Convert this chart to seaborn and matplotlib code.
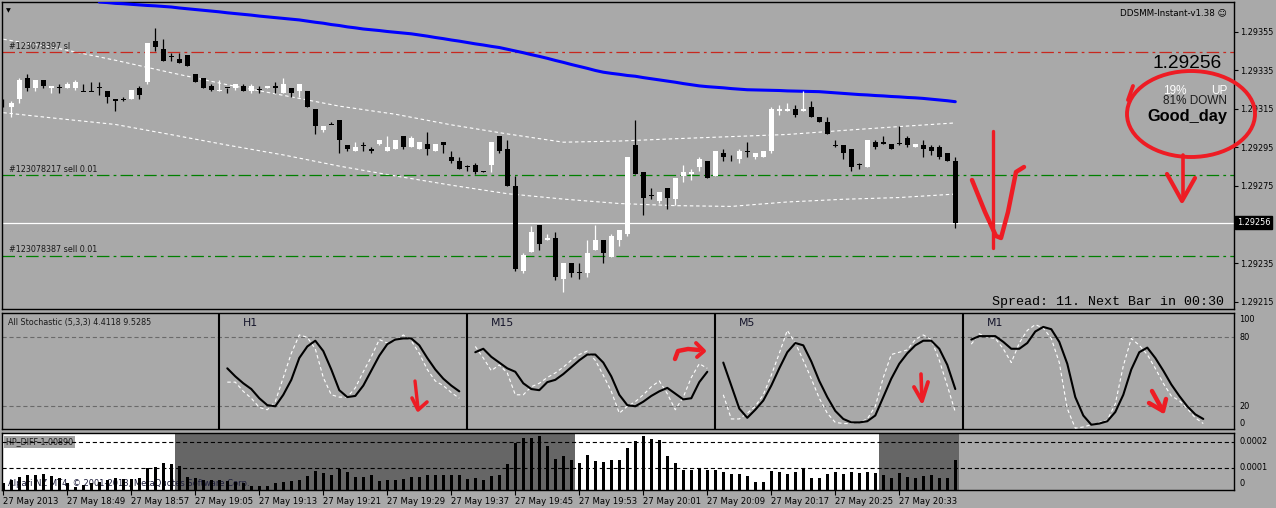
import numpy as np
import pandas as pd
import seaborn as sns
import matplotlib
matplotlib.use('Agg')
import matplotlib.pyplot as plt
from matplotlib.patches import Ellipse
from matplotlib.transforms import blended_transform_factory as blend

# ---------------- data (EURUSD M1, 27 May 2013 18:41 .. 20:40) ----------------
opens = [1.29318, 1.29316, 1.29320, 1.29331, 1.29326, 1.29330, 1.29326, 1.29326, 1.29326, 1.29326,
         1.29324, 1.29324, 1.29326, 1.29324, 1.29320, 1.29320, 1.29320, 1.29326, 1.29329, 1.29350,
         1.29346, 1.29342, 1.29341, 1.29343, 1.29333, 1.29331, 1.29327, 1.29324, 1.29326, 1.29326,
         1.29327, 1.29324, 1.29325, 1.29326, 1.29327, 1.29323, 1.29326, 1.29324, 1.29324, 1.29315,
         1.29304, 1.29307, 1.29309, 1.29296, 1.29293, 1.29296, 1.29294, 1.29297, 1.29293, 1.29294,
         1.29301, 1.29295, 1.29294, 1.29297, 1.29293, 1.29298, 1.29290, 1.29288, 1.29285, 1.29286,
         1.29283, 1.29286, 1.29301, 1.29294, 1.29275, 1.29231, 1.29241, 1.29255, 1.29247, 1.29248,
         1.29227, 1.29235, 1.29230, 1.29230, 1.29242, 1.29247, 1.29238, 1.29247, 1.29250, 1.29296,
         1.29282, 1.29270, 1.29267, 1.29274, 1.29268, 1.29280, 1.29281, 1.29285, 1.29288, 1.29280,
         1.29292, 1.29289, 1.29289, 1.29293, 1.29290, 1.29290, 1.29293, 1.29314, 1.29314, 1.29315,
         1.29314, 1.29316, 1.29311, 1.29308, 1.29296, 1.29296, 1.29294, 1.29286, 1.29285, 1.29298,
         1.29298, 1.29297, 1.29297, 1.29300, 1.29295, 1.29296, 1.29295, 1.29295, 1.29292, 1.29288]
highs = [1.29320, 1.29319, 1.29331, 1.29333, 1.29330, 1.29330, 1.29327, 1.29328, 1.29329, 1.29330,
         1.29328, 1.29329, 1.29329, 1.29324, 1.29320, 1.29321, 1.29325, 1.29327, 1.29349, 1.29357,
         1.29351, 1.29344, 1.29344, 1.29343, 1.29333, 1.29331, 1.29328, 1.29330, 1.29326, 1.29328,
         1.29328, 1.29328, 1.29327, 1.29327, 1.29329, 1.29331, 1.29326, 1.29328, 1.29324, 1.29315,
         1.29306, 1.29308, 1.29309, 1.29296, 1.29298, 1.29298, 1.29295, 1.29299, 1.29301, 1.29299,
         1.29301, 1.29301, 1.29298, 1.29303, 1.29297, 1.29298, 1.29293, 1.29290, 1.29286, 1.29287,
         1.29283, 1.29298, 1.29301, 1.29299, 1.29280, 1.29240, 1.29254, 1.29255, 1.29250, 1.29251,
         1.29235, 1.29235, 1.29235, 1.29247, 1.29255, 1.29247, 1.29250, 1.29252, 1.29290, 1.29309,
         1.29282, 1.29274, 1.29272, 1.29274, 1.29279, 1.29286, 1.29284, 1.29290, 1.29288, 1.29293,
         1.29294, 1.29291, 1.29294, 1.29298, 1.29292, 1.29293, 1.29316, 1.29317, 1.29318, 1.29317,
         1.29324, 1.29319, 1.29311, 1.29311, 1.29299, 1.29296, 1.29294, 1.29287, 1.29299, 1.29299,
         1.29301, 1.29297, 1.29306, 1.29301, 1.29297, 1.29299, 1.29296, 1.29296, 1.29292, 1.29290]
lows = [1.29316, 1.29311, 1.29318, 1.29324, 1.29324, 1.29326, 1.29323, 1.29323, 1.29326, 1.29325,
        1.29324, 1.29324, 1.29322, 1.29318, 1.29314, 1.29319, 1.29320, 1.29320, 1.29328, 1.29345,
        1.29340, 1.29340, 1.29339, 1.29337, 1.29329, 1.29326, 1.29324, 1.29324, 1.29323, 1.29325,
        1.29324, 1.29323, 1.29323, 1.29326, 1.29323, 1.29323, 1.29321, 1.29321, 1.29316, 1.29302,
        1.29303, 1.29307, 1.29292, 1.29293, 1.29293, 1.29293, 1.29292, 1.29296, 1.29293, 1.29294,
        1.29294, 1.29295, 1.29294, 1.29291, 1.29293, 1.29292, 1.29287, 1.29284, 1.29283, 1.29281,
        1.29282, 1.29282, 1.29292, 1.29275, 1.29231, 1.29230, 1.29241, 1.29242, 1.29247, 1.29226,
        1.29220, 1.29228, 1.29227, 1.29228, 1.29242, 1.29235, 1.29238, 1.29244, 1.29249, 1.29281,
        1.29260, 1.29268, 1.29266, 1.29263, 1.29265, 1.29277, 1.29278, 1.29283, 1.29279, 1.29280,
        1.29288, 1.29288, 1.29287, 1.29290, 1.29289, 1.29290, 1.29292, 1.29312, 1.29314, 1.29311,
        1.29314, 1.29311, 1.29308, 1.29302, 1.29295, 1.29289, 1.29283, 1.29284, 1.29285, 1.29294,
        1.29297, 1.29294, 1.29296, 1.29295, 1.29295, 1.29290, 1.29291, 1.29289, 1.29288, 1.29253]
closes = [1.29318, 1.29318, 1.29330, 1.29326, 1.29330, 1.29327, 1.29327, 1.29326, 1.29328, 1.29329,
          1.29324, 1.29324, 1.29326, 1.29321, 1.29319, 1.29320, 1.29325, 1.29322, 1.29349, 1.29347,
          1.29340, 1.29342, 1.29339, 1.29337, 1.29329, 1.29326, 1.29325, 1.29325, 1.29326, 1.29328,
          1.29324, 1.29327, 1.29325, 1.29327, 1.29326, 1.29328, 1.29323, 1.29328, 1.29316, 1.29306,
          1.29306, 1.29307, 1.29299, 1.29294, 1.29295, 1.29296, 1.29293, 1.29299, 1.29295, 1.29299,
          1.29295, 1.29300, 1.29298, 1.29294, 1.29297, 1.29296, 1.29288, 1.29284, 1.29285, 1.29282,
          1.29282, 1.29298, 1.29293, 1.29275, 1.29232, 1.29239, 1.29251, 1.29245, 1.29248, 1.29228,
          1.29235, 1.29230, 1.29230, 1.29240, 1.29247, 1.29240, 1.29249, 1.29252, 1.29290, 1.29281,
          1.29269, 1.29270, 1.29272, 1.29269, 1.29279, 1.29282, 1.29282, 1.29289, 1.29279, 1.29293,
          1.29290, 1.29289, 1.29293, 1.29293, 1.29292, 1.29293, 1.29315, 1.29315, 1.29315, 1.29312,
          1.29315, 1.29311, 1.29308, 1.29302, 1.29296, 1.29292, 1.29285, 1.29286, 1.29299, 1.29295,
          1.29297, 1.29294, 1.29297, 1.29296, 1.29297, 1.29294, 1.29293, 1.29290, 1.29288, 1.29256]

# moving average, first value belongs to bar 12
ma_start = 12
ma_values = [1.293704, 1.293701, 1.293697, 1.293695, 1.293692, 1.293689, 1.293686, 1.293684, 1.293681, 1.293678,
             1.293673, 1.293669, 1.293665, 1.293661, 1.293657, 1.293653, 1.293648, 1.293644, 1.293640, 1.293636,
             1.293631, 1.293627, 1.293623, 1.293619, 1.293615, 1.293611, 1.293605, 1.293599, 1.293594, 1.293587,
             1.293582, 1.293575, 1.293570, 1.293564, 1.293560, 1.293556, 1.293551, 1.293547, 1.293543, 1.293539,
             1.293533, 1.293527, 1.293520, 1.293514, 1.293507, 1.293501, 1.293494, 1.293487, 1.293481, 1.293474,
             1.293468, 1.293459, 1.293450, 1.293441, 1.293431, 1.293422, 1.293412, 1.293401, 1.293391, 1.293380,
             1.293370, 1.293360, 1.293349, 1.293340, 1.293334, 1.293329, 1.293323, 1.293319, 1.293312, 1.293306,
             1.293300, 1.293294, 1.293288, 1.293281, 1.293275, 1.293269, 1.293265, 1.293262, 1.293259, 1.293255,
             1.293252, 1.293249, 1.293248, 1.293247, 1.293246, 1.293245, 1.293243, 1.293242, 1.293241, 1.293240,
             1.293239, 1.293236, 1.293233, 1.293230, 1.293227, 1.293224, 1.293222, 1.293219, 1.293217, 1.293214,
             1.293212, 1.293209, 1.293207, 1.293204, 1.293200, 1.293196, 1.293192, 1.293187]

# envelope bands, read every 7th bar
band_step = 7
band_upper = [1.293511, 1.293462, 1.293402, 1.293337, 1.293275, 1.293220, 1.293164, 1.293122, 1.293067,
              1.293020, 1.292977, 1.292983, 1.292995, 1.293006, 1.293017, 1.293038, 1.293058, 1.293077]
band_lower = [1.293130, 1.293099, 1.293069, 1.293016, 1.292962, 1.292911, 1.292853, 1.292802, 1.292754,
              1.292710, 1.292682, 1.292659, 1.292648, 1.292644, 1.292667, 1.292681, 1.292690, 1.292708]

sl_level = 1.293443
sell_levels = [1.292807, 1.292385]
last_price = 1.29256
price_ticks = [1.29355, 1.29335, 1.29315, 1.29295, 1.29275, 1.29235, 1.29215]

# all-stochastic sub windows
stoch_frames = ['H1', 'M15', 'M5', 'M1']
h1_main = [53, 46, 40, 35, 27, 21, 20, 30, 43, 62, 72, 77, 68, 52, 34, 28, 29, 38, 51, 64, 74, 78, 79, 79, 73, 62, 52, 44, 38, 33]
h1_signal = [41, 41, 33, 27, 19, 17, 24, 45, 66, 82, 80, 70, 45, 30, 28, 28, 36, 50, 63, 78, 75, 77, 82, 77, 66, 52, 42, 38, 32, 27]
m15_main = [67, 70, 63, 58, 53, 50, 40, 35, 34, 41, 43, 48, 54, 60, 65, 65, 58, 46, 30, 21, 20, 24, 29, 33, 36, 31, 26, 27, 41, 50]
m15_signal = [72, 62, 51, 56, 49, 30, 30, 37, 40, 45, 49, 54, 60, 65, 68, 60, 47, 33, 14, 20, 24, 30, 37, 42, 31, 17, 28, 45, 57, 53]
m5_main = [58, 38, 18, 10, 17, 25, 38, 53, 67, 75, 73, 59, 42, 28, 16, 9, 6, 6, 7, 12, 28, 44, 57, 66, 73, 77, 77, 70, 56, 35]
m5_signal = [30, 9, 9, 14, 20, 30, 47, 66, 86, 75, 60, 44, 27, 14, 6, 5, 5, 6, 9, 20, 45, 65, 67, 69, 78, 82, 78, 60, 38, 15]
m1_main = [78, 81, 81, 81, 76, 70, 70, 75, 85, 89, 87, 76, 57, 28, 12, 4, 5, 7, 15, 30, 52, 67, 71, 62, 51, 39, 29, 20, 13, 9]
m1_signal = [74, 83, 80, 79, 70, 58, 75, 86, 91, 88, 79, 58, 18, 1, 2, 4, 6, 8, 22, 55, 79, 73, 65, 53, 40, 29, 25, 18, 10, 5]

# HP_DIFF histogram (units of 1e-4) and its trend colouring
hp_diff_e4 = [0.42, 0.55, 0.65, 0.74, 0.74, 0.78, 0.70, 0.61, 0.42, 0.29,
              0.36, 0.42, 0.49, 0.55, 0.61, 0.58, 0.58, 0.61, 1.00, 1.06,
              1.22, 1.17, 1.09, 0.68, 0.61, 0.55, 0.55, 0.55, 0.52, 0.49,
              0.42, 0.32, 0.32, 0.32, 0.42, 0.49, 0.52, 0.55, 0.70, 0.91,
              0.83, 0.74, 0.96, 0.87, 0.68, 0.68, 0.74, 0.52, 0.55, 0.55,
              0.58, 0.68, 0.68, 0.74, 0.74, 0.74, 0.74, 0.74, 0.58, 0.61,
              0.55, 0.70, 0.74, 1.17, 1.99, 2.15, 2.15, 2.24, 1.86, 1.35,
              1.47, 1.32, 1.19, 1.51, 1.28, 1.23, 1.32, 1.32, 1.77, 2.05,
              2.24, 2.11, 2.09, 1.47, 1.19, 0.93, 0.93, 1.00, 0.93, 0.93,
              0.87, 0.78, 0.78, 0.70, 0.47, 0.47, 0.90, 0.86, 0.78, 0.86,
              1.00, 0.61, 0.61, 0.78, 0.86, 0.78, 0.86, 0.83, 0.86, 0.81,
              0.74, 0.61, 0.83, 0.65, 0.61, 0.70, 0.74, 0.61, 0.61, 1.32]
hp_trend = ['up'] * 22 + ['down'] * 50 + ['up'] * 38 + ['down'] * 10

time_labels = ['27 May 2013', '27 May 18:49', '27 May 18:57', '27 May 19:05', '27 May 19:13',
               '27 May 19:21', '27 May 19:29', '27 May 19:37', '27 May 19:45', '27 May 19:53',
               '27 May 20:01', '27 May 20:09', '27 May 20:17', '27 May 20:25', '27 May 20:33']

# ---------------- figure ----------------
sns.set_theme(style='white')
plt.rcParams['font.family'] = ['DejaVu Sans']
plt.rcParams['lines.scale_dashes'] = False

BG = '#a9a9a9'
W, H = 1276, 508
fig = plt.figure(figsize=(W / 100, H / 100), dpi=100, facecolor=BG)


def box(top, bottom):
    return [2 / W, 1 - bottom / H, 1232 / W, (bottom - top) / H]


def fxy(x, y):
    return x / W, 1 - y / H


ax = fig.add_axes(box(2, 309))
ax_st = fig.add_axes(box(313, 429))
ax_hp = fig.add_axes(box(433, 490))
XLIM = (-0.1625, 153.84)
for a in (ax, ax_st, ax_hp):
    a.set_facecolor(BG)
    for s in a.spines.values():
        s.set_color('black')
        s.set_linewidth(1.0)
    a.tick_params(left=False, bottom=False, labelleft=False, labelbottom=False)

# ---- main price window ----
df = pd.DataFrame({'open': opens, 'high': highs, 'low': lows, 'close': closes})
df['bar'] = np.arange(len(df))
colors = np.where(df['close'] > df['open'], 'white', 'black')
min_body = 4.5e-6
body_h = (df['close'] - df['open']).abs()
body_lo = df[['open', 'close']].min(axis=1)
body_lo = np.where(body_h < min_body, body_lo - min_body / 2, body_lo)
body_h = body_h.clip(lower=min_body)

band_x = np.arange(0, len(df), band_step)
sns.lineplot(x=band_x, y=band_upper, ax=ax, color='white', linewidth=0.8,
             linestyle=(0, (2.5, 2)), zorder=2)
sns.lineplot(x=band_x, y=band_lower, ax=ax, color='white', linewidth=0.8,
             linestyle=(0, (2.5, 2)), zorder=2)
ax.axhline(sl_level, color='#c8281e', lw=0.9, ls=(0, (9, 3, 2, 3)), zorder=2)
for lvl in sell_levels:
    ax.axhline(lvl, color='#008000', lw=0.9, ls=(0, (9, 3, 2, 3)), zorder=2)
ax.axhline(last_price, color='white', lw=0.9, zorder=2)
ma_x = np.arange(ma_start, ma_start + len(ma_values))
sns.lineplot(x=ma_x, y=ma_values, ax=ax, color='#0000ff', linewidth=2.2, zorder=3)

ax.vlines(df['bar'], df['low'], df['high'], colors=colors, linewidth=0.9, zorder=4)
ax.bar(df['bar'], body_h, bottom=body_lo, width=0.62, color=colors, linewidth=0, zorder=5)

ax.set_xlim(*XLIM)
ax.set_ylim(1.292112, 1.293704)
ax.set_xlabel('')
ax.set_ylabel('')
ax.yaxis.tick_right()
ax.set_yticks(price_ticks)
ax.set_yticklabels([f'{p:.5f}' for p in price_ticks])
ax.tick_params(axis='y', right=True, labelright=True, length=3, width=0.8,
               direction='out', labelsize=5.9, pad=1.5, colors='black')
ax.text(1.0025, last_price, f'{last_price:.5f}', transform=blend(ax.transAxes, ax.transData),
        ha='left', va='center', fontsize=5.9, color='white',
        bbox=dict(facecolor='black', edgecolor='black', pad=1.2))

# order labels and info texts
small = dict(fontsize=5.8, color='#1a1a1a', va='center', ha='left')
fig.text(*fxy(6, 11), '\u25bc', fontsize=4.5, color='black', va='center')
fig.text(*fxy(9, 46.5), '#123078397 sl', **small)
fig.text(*fxy(9, 169.5), '#123078217 sell 0.01', **small)
fig.text(*fxy(9, 250), '#123078387 sell 0.01', **small)
fig.text(*fxy(1227, 12.5), 'DDSMM-Instant-v1.38 \u263a', fontsize=6.3, color='black',
         ha='right', va='center')
fig.text(*fxy(1222, 64), '1.29256', fontsize=13.8, family='Liberation Sans',
         color='black', ha='right', va='center')
fig.text(*fxy(1163, 90.5), '19%', fontsize=8.5, family='Liberation Sans', color='white',
         ha='left', va='center')
fig.text(*fxy(1227, 90.5), 'UP', fontsize=8.5, family='Liberation Sans', color='white',
         ha='right', va='center')
fig.text(*fxy(1227, 101.5), '81% DOWN', fontsize=8.5, family='Liberation Sans', color='#1e1e1e',
         ha='right', va='center')
fig.text(*fxy(1227, 116), 'Good_day', fontsize=11.8, family='Liberation Sans',
         weight='bold', color='black', ha='right', va='center')
fig.text(*fxy(1224, 302.5), 'Spread: 11. Next Bar in 00:30', fontsize=9.6,
         family='Liberation Mono', color='black', ha='right', va='center')

# ---- stochastic window ----
panel_width = 31
mains = [h1_main, m15_main, m5_main, m1_main]
signals = [h1_signal, m15_signal, m5_signal, m1_signal]
for k, (frame, main, sig) in enumerate(zip(stoch_frames, mains, signals)):
    start = 28 + panel_width * k
    xs = np.arange(start, start + len(main))
    sns.lineplot(x=xs, y=sig, ax=ax_st, color='white', linewidth=0.8,
                 linestyle=(0, (2.5, 2)), zorder=3)
    sns.lineplot(x=xs, y=main, ax=ax_st, color='black', linewidth=1.5, zorder=4)
    ax_st.axvline(start - 1.04, color='black', lw=1.5, zorder=5)
    fig.text(*fxy(3.3 + 8 * (start + 2), 323), frame, fontsize=7.8, color='#14142a',
             ha='left', va='center')
for lvl in (80, 20):
    ax_st.axhline(lvl, color='#6a6a6a', lw=0.8, ls=(0, (3, 2)), zorder=1)
ax_st.set_xlim(*XLIM)
ax_st.set_ylim(0.26, 101.1)
ax_st.set_xlabel('')
ax_st.set_ylabel('')
fig.text(*fxy(7.5, 322.5), 'All Stochastic (5,3,3) 4.4118 9.5285', fontsize=5.8,
         color='#1a1a1a', ha='left', va='center')
for lab, yy in [('100', 320), ('80', 337.5), ('20', 406.5), ('0', 423.5)]:
    fig.text(*fxy(1239, yy), lab, fontsize=5.9, color='black', ha='left', va='center')

# ---- HP_DIFF window ----
hp = pd.DataFrame({'bar': np.arange(len(hp_diff_e4)), 'value': np.array(hp_diff_e4) * 1e-4,
                   'trend': hp_trend})
runs = (hp['trend'] != hp['trend'].shift()).cumsum()
for _, run in hp.groupby(runs):
    shade = 'white' if run['trend'].iloc[0] == 'up' else '#666666'
    ax_hp.axvspan(run['bar'].iloc[0] - 0.5, run['bar'].iloc[-1] + 0.5, color=shade, lw=0, zorder=0)
ax_hp.bar(hp['bar'], hp['value'], width=0.375, color='black', linewidth=0, zorder=3)
for lvl in (1e-4, 2e-4):
    ax_hp.axhline(lvl, color='black', lw=0.8, ls=(0, (3, 2)), zorder=6)
ax_hp.set_xlim(*XLIM)
ax_hp.set_ylim(0.0000165, 0.0002358)
ax_hp.set_xticks(np.arange(0, len(hp), 8))
ax_hp.set_xticklabels(time_labels, ha='left')
ax_hp.tick_params(axis='x', bottom=True, labelbottom=True, length=3.5, width=0.8,
                  direction='out', labelsize=6.1, pad=1.5, colors='black')
ax_hp.text(*fxy(6, 442), 'HP_DIFF 1.00890', transform=fig.transFigure, fontsize=5.8,
           color='#1a1a1a', ha='left', va='center', zorder=5,
           bbox=dict(facecolor='#a4a4a4', edgecolor='none', pad=1.2))
ax_hp.text(*fxy(8, 483), 'Alpari NZ MT4, \u00a9 2001-2013, MetaQuotes Software Corp.',
           transform=fig.transFigure, fontsize=6.0, color='#1c1c3a', ha='left', va='center', zorder=2)
for lab, yy in [('0.0002', 441.5), ('0.0001', 467.5), ('0', 483.5)]:
    fig.text(*fxy(1239, yy), lab, fontsize=5.9, color='black', ha='left', va='center')

# ---- hand drawn red marks ----
ov = fig.add_axes([0, 0, 1, 1], zorder=10)
ov.set_xlim(0, W)
ov.set_ylim(H, 0)
ov.axis('off')
ov.patch.set_alpha(0)
RED = '#ee1c24'
strokes = [
    ([993, 993], [131, 248], 2.4),
    ([972, 985, 996, 1001, 1008, 1016, 1024], [180, 212, 236, 238, 212, 172, 167], 3.2),
    ([1133, 1128], [86, 100], 2.8),
    ([1183, 1183], [155, 198], 2.6),
    ([1167, 1182, 1195], [174, 201, 178], 3.0),
    ([415, 418], [381, 408], 2.4),
    ([412, 418, 427], [398, 410, 402], 2.6),
    ([675, 678, 688, 699], [359, 351, 349, 350], 3.2),
    ([696, 704, 697], [343, 351, 357], 2.8),
    ([921, 922], [374, 401], 2.6),
    ([914, 922, 928], [387, 401, 382], 2.8),
    ([1152, 1163], [391, 411], 3.2),
    ([1149, 1163, 1166], [403, 411, 399], 3.2),
]
for xs, ys, lw in strokes:
    ov.plot(xs, ys, color=RED, lw=lw, solid_capstyle='round', solid_joinstyle='round')
ov.add_patch(Ellipse((1191, 114), 128, 86, fill=False, edgecolor=RED, lw=2.8))

fig.savefig('out.png', dpi=100, facecolor=BG)
